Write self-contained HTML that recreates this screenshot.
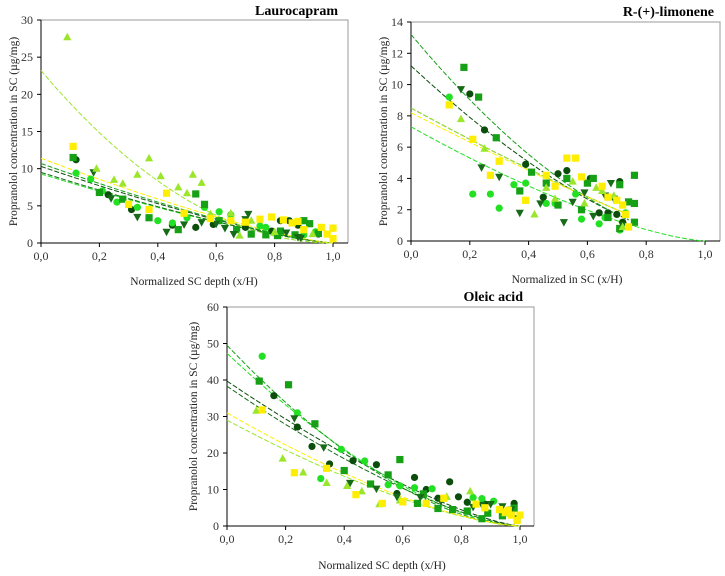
<!DOCTYPE html>
<html><head><meta charset="utf-8">
<style>
html,body{margin:0;padding:0;background:#fff;}
svg{display:block;font-family:"Liberation Serif",serif;}
</style></head>
<body>
<svg id="chart" width="725" height="576" viewBox="0 0 725 576" xmlns="http://www.w3.org/2000/svg"></svg>
<script>
// Series order: darkCircle, brightCircle, greenSquare, darkTriangle, ygTriangle, yellowSquare
const seriesNames = ["dark-circle","bright-circle","green-square","dark-triangle","yellowgreen-triangle","yellow-square"];
const seriesColors = ["#0b4d0b","#22e022","#16a016","#176a17","#9be52a","#ffee00"];
const seriesShapes = ["circle","circle","square","tridown","triup","square"];

// Panel 1: Laurocapram
const lauroDarkCircle = [[0.12,11.2],[0.23,6.5],[0.31,4.5],[0.45,2.4],[0.53,2.1],[0.59,2.5],[0.7,2.1],[0.79,1.6],[0.82,3],[0.85,3],[0.88,2.4],[0.95,1.2],[1.0,2]];
const lauroBrightCircle = [[0.12,9.4],[0.17,8.6],[0.21,7],[0.26,5.5],[0.33,4.8],[0.4,3],[0.45,2.7],[0.5,3.4],[0.56,4.8],[0.61,4.2],[0.65,3.8],[0.75,2.3],[0.77,2.1],[0.9,1.1],[0.94,1.5]];
const lauroGreenSquare = [[0.11,11.5],[0.2,6.8],[0.28,5.9],[0.37,3.4],[0.47,1.8],[0.53,6.6],[0.56,5.2],[0.61,3],[0.67,1.8],[0.72,1.2],[0.77,1.1],[0.81,1],[0.82,1.6],[0.87,1.1],[0.9,3],[0.92,2.6],[0.95,1.3]];
const lauroDarkTriangle = [[0.18,9.5],[0.24,6],[0.33,3.5],[0.43,1.5],[0.49,2.5],[0.55,2.8],[0.6,2.6],[0.63,2],[0.66,1.2],[0.7,3.2],[0.71,3.9],[0.84,1.4],[0.88,0.8],[0.89,0.7]];
const lauroYgTriangle = [[0.09,27.7],[0.19,10],[0.25,8.5],[0.28,8],[0.33,9.2],[0.37,11.4],[0.41,9],[0.47,7.5],[0.5,6.7],[0.52,9.2],[0.55,8.1],[0.58,3.9],[0.65,4],[0.68,1],[0.72,3],[0.8,1.5],[0.93,1.2]];
const lauroYellowSquare = [[0.11,13],[0.3,5.2],[0.37,4.5],[0.43,6.7],[0.49,4],[0.58,3.3],[0.65,3],[0.7,2.8],[0.75,3.2],[0.79,3.5],[0.83,3.1],[0.86,2.7],[0.88,2.9],[0.9,1.8],[0.96,2.1],[0.98,1.2],[1.0,0.6],[1.0,2]];
const lauroFitIntercept = [10.3,9.3,10.7,9.5,23.2,11.4];
const lauroFitExponent = [1.3,1.3,1.3,1.3,2.0,1.28];
const lauroFitEnd = [1,1,1,1,1,1];

// Panel 2: R-(+)-limonene
const limoDarkCircle = [[0.2,9.4],[0.25,7.1],[0.39,4.9],[0.45,2.8],[0.5,4.3],[0.53,4.5],[0.61,4],[0.64,1.8],[0.67,1.8],[0.7,1.7],[0.71,3.8],[0.72,1.2]];
const limoBrightCircle = [[0.13,9.2],[0.21,3],[0.27,3],[0.3,2.1],[0.35,3.6],[0.39,3.7],[0.46,2.4],[0.49,2.4],[0.56,3],[0.58,1.4],[0.64,1.1],[0.66,1.5],[0.71,0.7],[0.73,1.8]];
const limoGreenSquare = [[0.18,11.1],[0.23,9.2],[0.29,6.6],[0.37,3.2],[0.41,4.4],[0.46,3.7],[0.5,2.3],[0.53,4],[0.58,2],[0.6,3.7],[0.62,4],[0.67,1.5],[0.71,3.6],[0.71,0.8],[0.74,2.5],[0.76,4.2],[0.76,2.4],[0.76,1.2]];
const limoDarkTriangle = [[0.17,9.7],[0.24,4.7],[0.3,4.1],[0.37,1.8],[0.44,2.4],[0.52,1.2],[0.55,2.5],[0.59,3.1],[0.62,1.6],[0.66,2.9],[0.68,3.7],[0.69,2.7],[0.72,1]];
const limoYgTriangle = [[0.17,7.8],[0.25,5.9],[0.42,1.7],[0.46,3.4],[0.49,2.7],[0.55,3.8],[0.59,2.4],[0.63,3.4],[0.65,3.2],[0.69,2.9],[0.72,0.9]];
const limoYellowSquare = [[0.13,8.7],[0.21,6.5],[0.27,4.2],[0.3,5.1],[0.39,2.6],[0.46,4.2],[0.49,3.5],[0.53,5.3],[0.56,5.3],[0.58,4.1],[0.65,3.5],[0.67,2.8],[0.7,2.6],[0.72,2.3],[0.73,1.7],[0.74,0.9]];
const limoFitIntercept = [11.2,7.3,13.2,8.5,8.5,8.2];
const limoFitExponent = [1.56,1.43,1.7,1.2,1.2,1.17];
const limoFitEnd = [0.74,1,0.74,0.74,0.74,0.74];

// Panel 3: Oleic acid
const oleicDarkCircle = [[0.16,35.7],[0.24,27.1],[0.29,21.8],[0.35,17],[0.43,17.9],[0.51,16.8],[0.58,8.9],[0.64,13.3],[0.68,10],[0.72,7.6],[0.76,12.1],[0.79,8],[0.82,6.5],[0.88,6],[0.98,6.2]];
const oleicBrightCircle = [[0.12,46.5],[0.24,31],[0.32,13],[0.39,21],[0.47,17.8],[0.55,11.3],[0.59,11],[0.64,10.5],[0.7,10.2],[0.84,7.8],[0.87,7.5],[0.91,6.8],[0.97,4]];
const oleicGreenSquare = [[0.11,39.7],[0.21,38.7],[0.3,28],[0.4,15.2],[0.49,11.5],[0.55,14],[0.59,18.2],[0.65,6.2],[0.67,8.8],[0.72,4.8],[0.77,4.5],[0.82,4.1],[0.87,2],[0.89,3.5],[0.94,2.8],[0.98,4.9],[0.99,2]];
const oleicDarkTriangle = [[0.23,29.5],[0.33,21.5],[0.42,11.8],[0.51,10.2],[0.58,8],[0.66,7.9],[0.73,6.8],[0.84,5.2],[0.87,5.8],[0.9,6],[0.94,5.4],[0.97,4.5]];
const oleicYgTriangle = [[0.1,31.6],[0.19,18.5],[0.26,14.7],[0.34,11.8],[0.41,11],[0.46,9.5],[0.52,6],[0.59,7],[0.75,8],[0.83,9.5],[0.95,3.5]];
const oleicYellowSquare = [[0.12,31.8],[0.23,14.6],[0.34,15.8],[0.44,8.6],[0.53,6.2],[0.6,6.6],[0.68,6.2],[0.74,7.6],[0.85,6],[0.88,5],[0.93,4.5],[0.95,3.8],[0.96,4.3],[0.97,3],[0.99,1.5],[1.0,3]];
const oleicFitIntercept = [39.7,47.3,49.5,38.3,29,31];
const oleicFitExponent = [1.36,1.59,1.7,1.43,1.48,1.49];
const oleicFitEnd = [1,1,1,1,1,1];

const xTickLabels = ["0,0","0,2","0,4","0,6","0,8","1,0"];
const xTickValues = [0,0.2,0.4,0.6,0.8,1.0];
const lauroYTicks = [0,5,10,15,20,25,30];
const limoYTicks = [0,2,4,6,8,10,12,14];
const oleicYTicks = [0,10,20,30,40,50,60];

const NS="http://www.w3.org/2000/svg";
const svg=document.getElementById('chart');
function mk(tag,attrs,parent){const e=document.createElementNS(NS,tag);for(const k in attrs)e.setAttribute(k,attrs[k]);(parent||svg).appendChild(e);return e;}

const panels=[
 {key:"laurocapram",title:"Laurocapram",titleX:338,titleY:15,L:41,T:20,R:348,B:243,x1:333,ymax:30,yticks:lauroYTicks,
  data:[lauroDarkCircle,lauroBrightCircle,lauroGreenSquare,lauroDarkTriangle,lauroYgTriangle,lauroYellowSquare],
  fi:lauroFitIntercept,fe:lauroFitExponent,fend:lauroFitEnd,xlabel:"Normalized SC depth (x/H)",xlX:194,xlY:285,ylX:17},
 {key:"limonene",title:"R-(+)-limonene",titleX:714,titleY:16,L:411,T:22,R:720,B:241,x1:705,ymax:14,yticks:limoYTicks,
  data:[limoDarkCircle,limoBrightCircle,limoGreenSquare,limoDarkTriangle,limoYgTriangle,limoYellowSquare],
  fi:limoFitIntercept,fe:limoFitExponent,fend:limoFitEnd,xlabel:"Normalized in SC (x/H)",xlX:567,xlY:283,ylX:387},
 {key:"oleic-acid",title:"Oleic acid",titleX:523,titleY:301,L:227,T:307,R:534,B:526,x1:520,ymax:60,yticks:oleicYTicks,
  data:[oleicDarkCircle,oleicBrightCircle,oleicGreenSquare,oleicDarkTriangle,oleicYgTriangle,oleicYellowSquare],
  fi:oleicFitIntercept,fe:oleicFitExponent,fend:oleicFitEnd,xlabel:"Normalized SC depth (x/H)",xlX:382,xlY:569,ylX:197}
];

function marker(g,shape,cx,cy,color){
  const r=3.6;let e;
  if(shape==="circle") e=mk('circle',{cx:cx,cy:cy,r:r,fill:color},g);
  else if(shape==="square") e=mk('rect',{x:cx-r,y:cy-r,width:2*r,height:2*r,fill:color},g);
  else if(shape==="triup") e=mk('polygon',{points:`${cx},${cy-r-0.8} ${cx-r-0.5},${cy+r-0.5} ${cx+r+0.5},${cy+r-0.5}`,fill:color},g);
  else e=mk('polygon',{points:`${cx},${cy+r+0.8} ${cx-r-0.5},${cy-r+0.5} ${cx+r+0.5},${cy-r+0.5}`,fill:color},g);
  return e;
}

panels.forEach(p=>{
  const g=mk('g',{});
  
  
  const xs=v=>p.L+v*(p.x1-p.L);
  const ys=v=>p.B-v/p.ymax*(p.B-p.T);
  // frame
  const fr=mk('path',{d:`M${p.L},${p.T}H${p.R}V${p.B}`,fill:'none',stroke:'#999','stroke-width':1},g);
  
  
  const ax=mk('path',{d:`M${p.L},${p.T}V${p.B}H${p.R}`,fill:'none',stroke:'#000','stroke-width':1},g);
  
  
  // x ticks
  xTickValues.forEach((v,i)=>{
    mk('line',{x1:xs(v),x2:xs(v),y1:p.B,y2:p.B+4,stroke:'#000'},g);
    const t=mk('text',{x:xs(v),y:p.B+17,'font-size':12,'text-anchor':'middle',fill:'#333'},g);
    t.textContent=xTickLabels[i];
    
    
  });
  p.yticks.forEach(v=>{
    mk('line',{x1:p.L-4,x2:p.L,y1:ys(v),y2:ys(v),stroke:'#000'},g);
    const t=mk('text',{x:p.L-8,y:ys(v)+4,'font-size':12,'text-anchor':'end',fill:'#333'},g);
    t.textContent=String(v);
    
    
  });
  // titles
  const tt=mk('text',{x:p.titleX,y:p.titleY,'font-size':14,'font-weight':'bold','text-anchor':'end',fill:'#000'},g);
  tt.textContent=p.title;
  
  
  const xl=mk('text',{x:p.xlX,y:p.xlY,'font-size':11.5,'text-anchor':'middle',fill:'#222'},g);
  xl.textContent=p.xlabel;
  
  
  const cy=(p.T+p.B)/2;
  const yl=mk('text',{x:p.ylX,y:cy,'font-size':11.5,'text-anchor':'middle',fill:'#222',transform:`rotate(-90 ${p.ylX} ${cy})`},g);
  yl.textContent="Propranolol concentration in SC (µg/mg)";
  
  
  // fit lines
  p.fi.forEach((y0,si)=>{
    let d="";
    for(let k=0;k<=60;k++){const x=k/60*p.fend[si];const y=y0*Math.pow(1-x,p.fe[si]);d+=(k?"L":"M")+xs(x).toFixed(1)+","+ys(y).toFixed(1);}
    const l=mk('path',{d:d,fill:'none',stroke:seriesColors[si],'stroke-width':1,'stroke-dasharray':'5,2'},g);
    
    
  });
  // points
  p.data.forEach((arr,si)=>{
    arr.forEach(pt=>{
      const m=marker(g,seriesShapes[si],xs(pt[0]),ys(pt[1]),seriesColors[si]);
      
      
    });
  });
});
</script>
</body></html>
